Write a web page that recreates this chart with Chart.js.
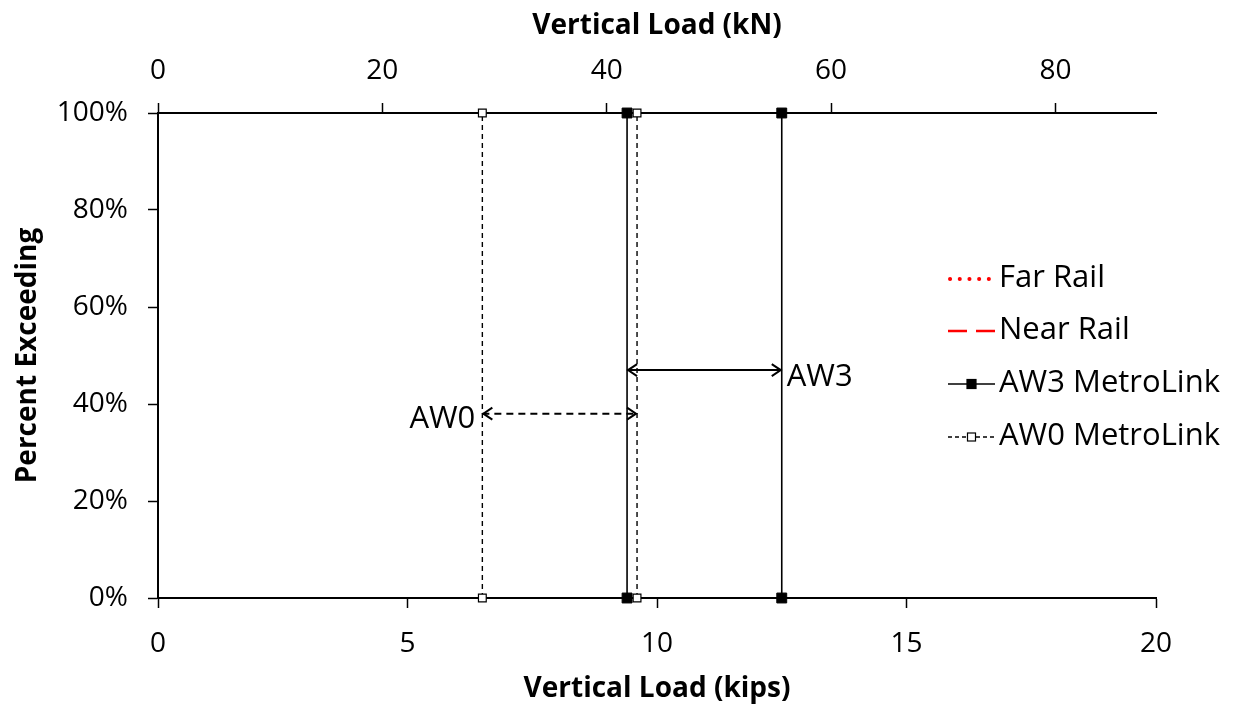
<!DOCTYPE html>
<html>
<head>
<meta charset="utf-8">
<title>Vertical Load - Percent Exceeding</title>
<script src="https://cdn.jsdelivr.net/npm/chart.js@4.4.1/dist/chart.umd.min.js"></script>
<style>
  html, body { margin: 0; padding: 0; background: #fff; }
  #wrap { width: 1238px; height: 711px; }
</style>
</head>
<body>
<div id="wrap"><canvas id="chart" width="1238" height="711"></canvas></div>
<script>
// kips -> kN for the secondary (top) axis
const KN_PER_KIP = 4.448222;

// percent exceeding at the two ends of every vertical trace
const pctEnds = [0, 100];

// load levels (kips)
const farRail = [];
const nearRail = [];
const aw3Loads = [9.4, 12.5];
const aw0Loads = [6.5, 9.6];

// spread arrows: [from, to] in kips, and the % level they sit at
const aw3Spread = [9.4, 12.5];
const aw3SpreadPct = 47;
const aw0Spread = [6.5, 9.6];
const aw0SpreadPct = 38;
const spreadLabels = ['AW3', 'AW0'];

const FONT = '"Open Sans", "Noto Sans", sans-serif';

// each load becomes a vertical 0..100% segment, broken with a null between them
function verticalSegments(loads) {
  const pts = [];
  loads.forEach((x, i) => {
    if (i > 0) pts.push({ x: x, y: null });
    pctEnds.forEach(p => pts.push({ x: x, y: p }));
  });
  return pts;
}

function spreadLine(span, pct) {
  return span.map(x => ({ x: x, y: pct }));
}

const datasets = [
  {
    label: 'Far Rail', data: farRail, inLegend: true,
    borderColor: '#ff0000', borderWidth: 4, borderDash: [0.1, 9.6], borderCapStyle: 'round',
    pointRadius: 0
  },
  {
    label: 'Near Rail', data: nearRail, inLegend: true,
    borderColor: '#ff0000', borderWidth: 2.5, borderDash: [19, 9],
    pointRadius: 0
  },
  {
    label: 'AW3 MetroLink', data: verticalSegments(aw3Loads), inLegend: true,
    borderColor: '#000', borderWidth: 1.6,
    pointStyle: 'rect', pointRadius: 7, pointBackgroundColor: '#000', pointBorderColor: '#000', pointBorderWidth: 1,
    legendMarker: { size: 9, fill: '#000' }
  },
  {
    label: 'AW0 MetroLink', data: verticalSegments(aw0Loads), inLegend: true,
    borderColor: '#000', borderWidth: 1.4, borderDash: [5, 4],
    pointStyle: 'rect', pointRadius: 5.5, pointBackgroundColor: '#fff', pointBorderColor: '#000', pointBorderWidth: 1.2,
    legendMarker: { size: 8, fill: '#fff' }, legendDash: [4, 3]
  },
  {
    label: spreadLabels[0], data: spreadLine(aw3Spread, aw3SpreadPct),
    borderColor: '#000', borderWidth: 2, pointRadius: 0,
    arrowHeads: true, note: { side: 'right', text: spreadLabels[0] }
  },
  {
    label: spreadLabels[1], data: spreadLine(aw0Spread, aw0SpreadPct),
    borderColor: '#000', borderWidth: 2, borderDash: [7, 5], pointRadius: 0,
    arrowHeads: true, note: { side: 'left', text: spreadLabels[1] }
  }
];

// open chevron heads on both ends of the spread arrows, plus their labels
const arrowPlugin = {
  id: 'spreadArrows',
  afterDatasetsDraw(chart) {
    const ctx = chart.ctx;
    chart.data.datasets.forEach((ds, i) => {
      if (!ds.arrowHeads) return;
      const pts = chart.getDatasetMeta(i).data;
      const a = pts[0], b = pts[pts.length - 1];
      ctx.save();
      ctx.strokeStyle = ds.borderColor;
      ctx.lineWidth = 2;
      ctx.setLineDash([]);
      const len = 10, half = 6;
      ctx.beginPath();
      ctx.moveTo(a.x + len, a.y - half); ctx.lineTo(a.x + 1, a.y); ctx.lineTo(a.x + len, a.y + half);
      ctx.moveTo(b.x - len, b.y - half); ctx.lineTo(b.x - 1, b.y); ctx.lineTo(b.x - len, b.y + half);
      ctx.stroke();
      ctx.fillStyle = '#000';
      ctx.font = '31px ' + FONT;
      ctx.textBaseline = 'middle';
      if (ds.note.side === 'right') {
        ctx.textAlign = 'left';
        ctx.fillText(ds.note.text, b.x + 5, b.y + 7);
      } else {
        ctx.textAlign = 'right';
        ctx.fillText(ds.note.text, a.x - 7, a.y + 5);
      }
      ctx.restore();
    });
  }
};

// legend on the right side, drawn from the dataset styles
const sideLegend = {
  id: 'sideLegend',
  afterDraw(chart) {
    const ctx = chart.ctx;
    const x0 = 948, x1 = 995, tx = 999;
    const rows = [279, 331, 384, 437];
    const items = chart.data.datasets.filter(d => d.inLegend);
    ctx.save();
    items.forEach((d, i) => {
      const y = rows[i];
      ctx.strokeStyle = d.borderColor;
      ctx.lineWidth = d.borderWidth;
      ctx.lineCap = d.borderCapStyle || 'butt';
      ctx.setLineDash(d.legendDash || d.borderDash || []);
      ctx.beginPath();
      ctx.moveTo(x0 + (d.borderCapStyle === 'round' ? 2 : 0), y);
      ctx.lineTo(x1, y);
      ctx.stroke();
      if (d.legendMarker) {
        const s = d.legendMarker.size, cx = (x0 + x1) / 2;
        ctx.setLineDash([]);
        ctx.lineCap = 'butt';
        ctx.fillStyle = d.legendMarker.fill;
        ctx.fillRect(cx - s / 2, y - s / 2, s, s);
        ctx.lineWidth = 1.2;
        ctx.strokeStyle = '#000';
        ctx.strokeRect(cx - s / 2, y - s / 2, s, s);
      }
      ctx.fillStyle = '#000';
      ctx.font = '31px ' + FONT;
      ctx.textAlign = 'left';
      ctx.textBaseline = 'middle';
      ctx.fillText(d.label, tx, y - 1);
    });
    ctx.restore();
  }
};

const tickFont = { family: FONT, size: 28 };
const titleFont = { family: FONT, size: 28, weight: 'bold' };
const axisGrid = { drawOnChartArea: false, tickLength: 10, tickColor: '#000', tickWidth: 1.5 };
const axisBorder = { display: true, color: '#000', width: 2 };

new Chart(document.getElementById('chart'), {
  type: 'scatter',
  data: { datasets: datasets },
  options: {
    responsive: false,
    animation: false,
    showLine: true,
    spanGaps: false,
    datasets: { scatter: { clip: false } },
    layout: { padding: { left: 0, right: 82, top: 0, bottom: 0 } },
    plugins: { legend: { display: false }, tooltip: { enabled: false } },
    scales: {
      x: {
        type: 'linear', position: 'bottom', min: 0, max: 20,
        ticks: { stepSize: 5, color: '#000', font: tickFont, padding: 19, includeBounds: false },
        grid: axisGrid, border: axisBorder,
        title: { display: true, text: 'Vertical Load (kips)', color: '#000', font: titleFont, padding: { top: 0, bottom: 5 } },
        afterFit: s => { s.height = 113; }
      },
      x2: {
        type: 'linear', position: 'top', min: 0, max: 20 * KN_PER_KIP,
        ticks: { stepSize: 20, color: '#000', font: tickFont, padding: 15, includeBounds: false },
        grid: axisGrid, border: axisBorder,
        title: { display: true, text: 'Vertical Load (kN)', color: '#000', font: titleFont, padding: { top: 9, bottom: 0 } },
        afterFit: s => { s.height = 113; }
      },
      y: {
        type: 'linear', min: 0, max: 100,
        ticks: { stepSize: 20, color: '#000', font: tickFont, padding: 20, callback: v => v + '%' },
        grid: axisGrid, border: axisBorder,
        title: { display: true, text: 'Percent Exceeding', color: '#000', font: titleFont, padding: { top: 11, bottom: 0 } },
        afterFit: s => { s.width = 158; }
      }
    }
  },
  plugins: [arrowPlugin, sideLegend]
});
</script>
</body>
</html>
